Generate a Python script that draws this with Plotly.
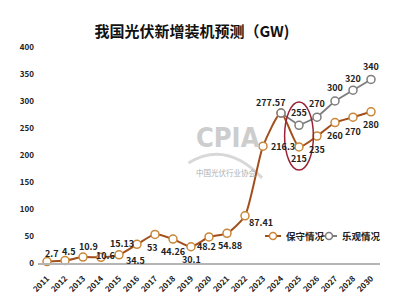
import plotly.graph_objects as go

years = ["2011", "2012", "2013", "2014", "2015", "2016", "2017", "2018", "2019",
         "2020", "2021", "2022", "2023", "2024", "2025", "2026", "2027", "2028", "2030"]
conservative = [2.7, 4.5, 10.9, 10.6, 15.13, 34.5, 53, 44.26, 30.1,
                48.2, 54.88, 87.41, 216.3, 277.57, 215, 235, 260, 270, 280]
optimistic = [None] * 13 + [277.57, 255, 270, 300, 320, 340]
series_names = ["保守情况", "乐观情况"]

# label offsets (pixels) relative to each point
cons_dx = [4.5, 4, 5, 4, 2.5, -1.5, -3, 0, 0.5, -3, 2.5, 16, 20, -10.5, 0, 0, 0, 0, 0]
cons_dy = [8, 9, 11, 2, 11, -16, -13, -12, -13, -10, -12, -7, 0, 11, -12, -13, -13, -14, -13]
opt_dy = [0] * 13 + [0, 13, 14, 14, 12, 13]

FONT = "Noto Sans CJK SC"
ORANGE_LINE = "#a24f1c"
ORANGE_MK = "#c98637"
GRAY_LINE = "#7d7d7d"

fig = go.Figure()
fig.add_trace(go.Scatter(
    x=years, y=conservative, name=series_names[0], mode="lines+markers",
    line=dict(color=ORANGE_LINE, width=2, shape="spline", smoothing=0.6),
    marker=dict(size=8, color="white", line=dict(color=ORANGE_MK, width=1.5)),
    cliponaxis=False, showlegend=False,
))
fig.add_trace(go.Scatter(
    x=years, y=optimistic, name=series_names[1], mode="lines+markers",
    line=dict(color=GRAY_LINE, width=1.8),
    marker=dict(size=8, color="white", line=dict(color=GRAY_LINE, width=1.5)),
    cliponaxis=False, connectgaps=False, showlegend=False,
))

lab_font = dict(family=FONT, size=9, color="#222", weight="bold")
for i, (v, dx, dy) in enumerate(zip(conservative, cons_dx, cons_dy)):
    fig.add_annotation(x=i, y=v, xref="x", yref="y", text=f"{v:g}", showarrow=False,
                       xshift=dx, yshift=dy, font=lab_font,
                       xanchor="center", yanchor="middle")
for i, (v, dy) in enumerate(zip(optimistic, opt_dy)):
    if v is None or i == 13:
        continue
    fig.add_annotation(x=i, y=v, xref="x", yref="y", text=f"{v:g}", showarrow=False,
                       yshift=dy, font=lab_font, xanchor="center", yanchor="middle")

i25 = years.index("2025")
fig.add_shape(type="circle", xref="x", yref="y",
              x0=i25 - 0.8, x1=i25 + 0.8, y0=172, y1=298,
              line=dict(color="#9b2335", width=1.5))

# compact legend (line + circle symbol, then name)
PW, PH = 342.0, 216.0
leg_y = 27 / PH
leg_items = [(ORANGE_LINE, ORANGE_MK, 265, 281, 284), (GRAY_LINE, GRAY_LINE, 321, 337, 340)]
for (lc, mc, x0, x1, tx), name in zip(leg_items, series_names):
    fig.add_shape(type="line", xref="paper", yref="paper",
                  x0=(x0 - 38) / PW, x1=(x1 - 38) / PW, y0=leg_y, y1=leg_y,
                  line=dict(color=lc, width=2))
    cx = ((x0 + x1) / 2 - 38) / PW
    fig.add_shape(type="circle", xref="paper", yref="paper",
                  x0=cx - 3.5 / PW, x1=cx + 3.5 / PW, y0=leg_y - 3.5 / PH, y1=leg_y + 3.5 / PH,
                  fillcolor="white", line=dict(color=mc, width=1.5))
    fig.add_annotation(text=name, xref="paper", yref="paper", x=(tx - 38) / PW, y=leg_y,
                       xanchor="left", yanchor="middle", showarrow=False,
                       font=dict(family=FONT, size=9.5, color="#222", weight="bold"))

# watermark
fig.add_shape(type="path", xref="paper", yref="paper",
              path="M 0.44 0.463 Q 0.55 0.57 0.655 0.394",
              line=dict(color="#d8d8d8", width=3), layer="below")
fig.add_annotation(text="CPIA", xref="paper", yref="paper", x=0.556, y=0.58,
                   showarrow=False,
                   font=dict(family="DejaVu Sans Condensed, Roboto, sans-serif", size=27,
                             color="#cdcdcd", weight="bold"))
fig.add_annotation(text="中国光伏行业协会", xref="paper", yref="paper", x=0.55, y=0.42,
                   showarrow=False, font=dict(family=FONT, size=7.5, color="#b0b0b0"))

fig.update_layout(
    width=400, height=300,
    margin=dict(l=38, r=20, t=47, b=37),
    paper_bgcolor="white", plot_bgcolor="white",
    title=dict(text="我国光伏新增装机预测（GW)", x=0.48, xanchor="center", y=0.895, yanchor="middle",
               font=dict(family=FONT, size=15, color="#111", weight="bold")),
    showlegend=False,
    xaxis=dict(type="category", range=[-0.5, 18.5], showgrid=False, showline=True,
               linecolor="#b5b5b5", linewidth=1.5, ticks="", tickangle=-45,
               ticklabelstandoff=6, automargin=False,
               tickfont=dict(family=FONT, size=8, color="#222", weight="bold"), zeroline=False),
    yaxis=dict(range=[0, 400], dtick=50, showgrid=False, showline=False, zeroline=False, ticks="",
               ticklabelstandoff=3, automargin=False,
               tickfont=dict(family=FONT, size=8, color="#222", weight="bold")),
)

fig.write_html("out.html")
